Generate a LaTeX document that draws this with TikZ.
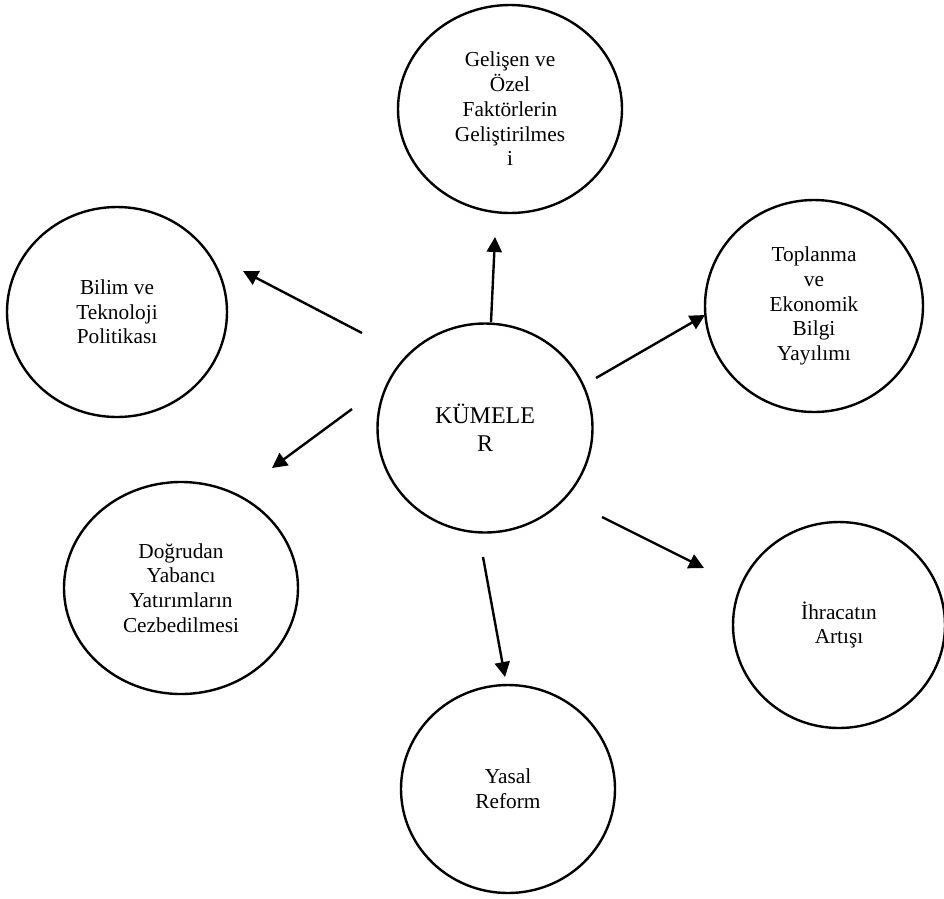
\documentclass[tikz,border=0pt]{standalone}
\usepackage{fontspec}
\setmainfont{Liberation Serif}
\usetikzlibrary{shapes.geometric,arrows.meta}

\tikzset{
  bubble/.style={ellipse, draw, line width=2.4pt, inner sep=0pt, align=center,
    font=\fontsize{21.3}{24.7}\selectfont},
  hub/.style={bubble, font=\fontsize{24}{28}\selectfont},
  link/.style={line width=2.4pt, -{Triangle[length=15pt,width=15pt]}}
}

\begin{document}
\begin{tikzpicture}[x=1pt,y=-1pt]
  \useasboundingbox (0,0) rectangle (944,898);

  % central circle and the six surrounding themes
  \node[hub, minimum width=215pt, minimum height=209pt] (kume) at (485,428) {KÜMELE\\R};
  \node[bubble, minimum width=224pt, minimum height=208pt] (gelisen) at (510,109)
    {Gelişen ve\\Özel\\Faktörlerin\\Geliştirilmes\\i};
  \node[bubble, minimum width=220pt, minimum height=210pt] (bilim) at (117,312)
    {Bilim ve\\Teknoloji\\Politikası};
  \node[bubble, minimum width=218pt, minimum height=212pt] (toplanma) at (814,306)
    {Toplanma\\ve\\Ekonomik\\Bilgi\\Yayılımı};
  \node[bubble, minimum width=234pt, minimum height=212pt] (dogrudan) at (181,588)
    {Doğrudan\\Yabancı\\Yatırımların\\Cezbedilmesi};
  \node[bubble, minimum width=212pt, minimum height=206pt] (ihracat) at (839,625)
    {İhracatın\\Artışı};
  \node[bubble, minimum width=214pt, minimum height=208pt] (yasal) at (508,789)
    {Yasal\\Reform};

  % arrow end points (the arrows float between the circles)
  \coordinate (upA) at (491,322);  \coordinate (upB) at (495,237);
  \coordinate (luA) at (362,333);  \coordinate (luB) at (243,271);
  \coordinate (ruA) at (596,378);  \coordinate (ruB) at (705,315);
  \coordinate (ldA) at (352,409);  \coordinate (ldB) at (272,468);
  \coordinate (rdA) at (602,517);  \coordinate (rdB) at (704,568);
  \coordinate (dnA) at (483,557);  \coordinate (dnB) at (505,677);

  \draw[link] (upA) -- (upB);
  \draw[link] (luA) -- (luB);
  \draw[link] (ruA) -- (ruB);
  \draw[link] (ldA) -- (ldB);
  \draw[link] (rdA) -- (rdB);
  \draw[link] (dnA) -- (dnB);
\end{tikzpicture}
\end{document}
